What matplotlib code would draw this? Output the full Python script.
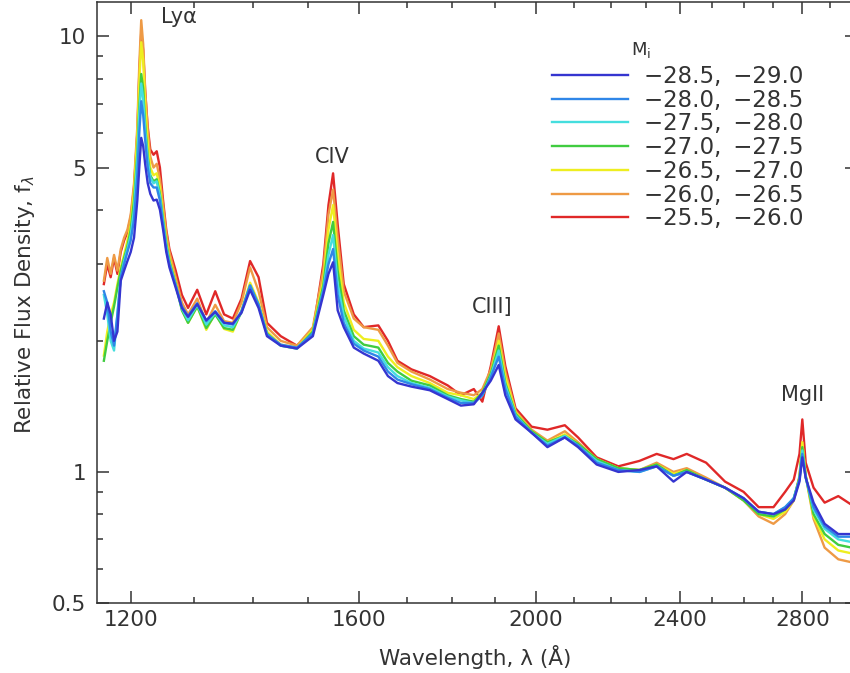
import matplotlib
matplotlib.use("Agg")
import matplotlib.pyplot as plt
from matplotlib.lines import Line2D
from matplotlib.ticker import FixedLocator, NullFormatter

plt.rcParams['font.family'] = ['DejaVu Sans']

# rest-frame wavelength grid (Angstrom)
wave = [1160, 1165, 1170, 1175, 1180, 1185, 1190, 1195, 1200, 1205, 1210, 1213,
        1216, 1219, 1222, 1226, 1230, 1235, 1240, 1245, 1250, 1255, 1260,
        1270, 1280, 1290, 1305, 1320, 1335, 1350, 1365, 1380, 1395, 1410, 1425, 1450, 1480,
        1510, 1530, 1540, 1549, 1558, 1570, 1590, 1610, 1640, 1660, 1680, 1710, 1750, 1790,
        1820, 1850, 1870, 1890, 1909, 1925, 1950, 1990, 2030, 2075, 2110, 2160, 2220, 2280,
        2330, 2380, 2420, 2480, 2540, 2600, 2650, 2700, 2740, 2770, 2790, 2800, 2812, 2840, 2880, 2930, 2980]

# composite spectra, one per absolute magnitude bin
flux_285_290 = [2.25, 2.45, 2.3, 2.0, 2.1, 2.75, 2.9, 3.05, 3.2, 3.45, 4.2, 5.0,
                5.85, 5.6, 5.1, 4.6, 4.35, 4.2, 4.22, 4.0, 3.6, 3.2, 2.95,
                2.65, 2.38, 2.27, 2.43, 2.23, 2.33, 2.2, 2.19, 2.32, 2.62, 2.38, 2.05, 1.95, 1.92,
                2.05, 2.55, 2.85, 3.03, 2.35, 2.15, 1.93, 1.87, 1.8, 1.66, 1.6, 1.57, 1.54, 1.47,
                1.42, 1.43, 1.52, 1.62, 1.76, 1.5, 1.32, 1.23, 1.14, 1.2, 1.14, 1.04, 1.0, 1.01,
                1.03, 0.95, 1.0, 0.96, 0.92, 0.87, 0.81, 0.8, 0.82, 0.86, 0.95, 1.08, 0.97, 0.85, 0.76, 0.72, 0.72]

flux_280_285 = [2.6, 2.45, 2.1, 1.95, 2.3, 2.8, 3.0, 3.2, 3.4, 3.8, 4.8, 6.0,
                7.1, 6.6, 5.8, 5.0, 4.6, 4.5, 4.5, 4.2, 3.7, 3.25, 3.0,
                2.68, 2.4, 2.28, 2.44, 2.22, 2.34, 2.2, 2.18, 2.34, 2.68, 2.42, 2.07, 1.96, 1.93,
                2.08, 2.6, 3.0, 3.25, 2.55, 2.2, 1.97, 1.9, 1.84, 1.7, 1.63, 1.59, 1.55, 1.48,
                1.44, 1.44, 1.5, 1.65, 1.84, 1.55, 1.34, 1.23, 1.15, 1.2, 1.15, 1.05, 1.01, 1.0,
                1.03, 0.98, 1.0, 0.96, 0.92, 0.87, 0.81, 0.8, 0.83, 0.87, 0.96, 1.1, 0.97, 0.83, 0.75, 0.71, 0.71]

flux_275_280 = [2.55, 2.3, 2.0, 1.9, 2.3, 2.8, 3.05, 3.25, 3.5, 4.0, 5.2, 6.6,
                7.8, 7.2, 6.1, 5.2, 4.75, 4.6, 4.65, 4.3, 3.75, 3.3, 3.02,
                2.68, 2.37, 2.23, 2.42, 2.18, 2.32, 2.17, 2.15, 2.33, 2.68, 2.42, 2.07, 1.95, 1.92,
                2.08, 2.62, 3.15, 3.5, 2.7, 2.28, 2.0, 1.92, 1.88, 1.74, 1.66, 1.6, 1.56, 1.49,
                1.46, 1.44, 1.5, 1.66, 1.9, 1.58, 1.35, 1.23, 1.16, 1.21, 1.15, 1.06, 1.01, 1.0,
                1.03, 0.98, 1.0, 0.96, 0.92, 0.87, 0.81, 0.8, 0.83, 0.87, 0.96, 1.12, 0.97, 0.82, 0.74, 0.7, 0.69]

flux_270_275 = [1.8, 2.0, 2.2, 2.4, 2.65, 2.9, 3.1, 3.3, 3.6, 4.2, 5.4, 6.9,
                8.2, 7.6, 6.3, 5.3, 4.8, 4.65, 4.7, 4.35, 3.8, 3.35, 3.05,
                2.7, 2.35, 2.2, 2.4, 2.14, 2.3, 2.14, 2.12, 2.33, 2.68, 2.42, 2.08, 1.95, 1.92,
                2.1, 2.68, 3.35, 3.75, 2.9, 2.35, 2.05, 1.96, 1.93, 1.78, 1.7, 1.62, 1.58, 1.5,
                1.47, 1.45, 1.52, 1.68, 1.95, 1.6, 1.36, 1.24, 1.17, 1.21, 1.16, 1.07, 1.02, 1.01,
                1.04, 0.98, 1.01, 0.96, 0.92, 0.86, 0.8, 0.79, 0.82, 0.87, 0.97, 1.14, 0.98, 0.8, 0.72, 0.68, 0.67]

flux_265_270 = [1.85, 2.1, 2.3, 2.45, 2.7, 2.95, 3.15, 3.4, 3.7, 4.4, 5.9, 7.8,
                9.7, 8.8, 7.0, 5.7, 5.0, 4.8, 4.85, 4.5, 3.9, 3.4, 3.1,
                2.72, 2.36, 2.2, 2.4, 2.12, 2.32, 2.13, 2.1, 2.35, 2.72, 2.45, 2.1, 1.96, 1.93,
                2.12, 2.75, 3.6, 4.1, 3.15, 2.45, 2.12, 2.02, 2.0, 1.84, 1.74, 1.66, 1.6, 1.52,
                1.5, 1.47, 1.52, 1.68, 2.0, 1.65, 1.37, 1.24, 1.17, 1.22, 1.16, 1.07, 1.02, 1.01,
                1.04, 0.99, 1.01, 0.96, 0.92, 0.86, 0.8, 0.78, 0.81, 0.86, 0.97, 1.17, 0.98, 0.79, 0.7, 0.66, 0.65]

flux_260_265 = [2.75, 3.1, 2.85, 3.15, 2.9, 3.25, 3.45, 3.6, 3.9, 4.6, 6.2, 8.6,
                10.9, 9.6, 7.6, 6.1, 5.3, 5.0, 5.1, 4.7, 4.1, 3.55, 3.2,
                2.8, 2.45, 2.3, 2.5, 2.2, 2.42, 2.22, 2.2, 2.45, 2.95, 2.6, 2.15, 2.0, 1.95,
                2.15, 2.9, 3.9, 4.45, 3.45, 2.6, 2.25, 2.15, 2.12, 1.95, 1.78, 1.7, 1.63, 1.55,
                1.52, 1.5, 1.55, 1.72, 2.08, 1.7, 1.38, 1.25, 1.18, 1.24, 1.17, 1.07, 1.02, 1.01,
                1.05, 1.0, 1.02, 0.97, 0.92, 0.86, 0.79, 0.76, 0.8, 0.86, 0.98, 1.17, 0.98, 0.78, 0.67, 0.63, 0.62]

flux_255_260 = [2.7, 3.0, 2.8, 3.1, 2.85, 3.2, 3.4, 3.55, 3.85, 4.5, 6.0, 8.2,
                10.2, 9.3, 7.5, 6.2, 5.5, 5.35, 5.45, 5.0, 4.2, 3.6, 3.25,
                2.9, 2.55, 2.38, 2.62, 2.3, 2.6, 2.3, 2.25, 2.5, 3.05, 2.8, 2.2, 2.05, 1.95,
                2.1, 3.0, 4.1, 4.85, 3.7, 2.7, 2.3, 2.15, 2.17, 2.0, 1.8, 1.72, 1.66, 1.58,
                1.5, 1.55, 1.45, 1.75, 2.16, 1.75, 1.4, 1.27, 1.25, 1.28, 1.2, 1.08, 1.03, 1.06,
                1.1, 1.07, 1.1, 1.05, 0.95, 0.9, 0.83, 0.83, 0.9, 0.96, 1.1, 1.32, 1.05, 0.92, 0.85, 0.88, 0.84]

labels = ["\u221228.5, \u2009\u221229.0", "\u221228.0, \u2009\u221228.5", "\u221227.5, \u2009\u221228.0",
          "\u221227.0, \u2009\u221227.5", "\u221226.5, \u2009\u221227.0", "\u221226.0, \u2009\u221226.5",
          "\u221225.5, \u2009\u221226.0"]
colors = ["#3535d0", "#2f86e8", "#45dede", "#40cc40", "#eeee20", "#ee9a45", "#e02828"]
spectra = [flux_285_290, flux_280_285, flux_275_280, flux_270_275,
           flux_265_270, flux_260_265, flux_255_260]

line_names = ["Ly\u03b1", "CIV", "CIII]", "MgII"]
line_x = [1275, 1547, 1893, 2800]
line_y = [11.1, 5.3, 2.39, 1.50]

ink = "#333333"

fig = plt.figure(figsize=(8.5, 6.73), dpi=100)
ax = fig.add_axes([97 / 850, 70 / 673, 760 / 850, 601 / 673])

# faintest bin underneath, brightest on top
for flux, col in reversed(list(zip(spectra, colors))):
    ax.plot(wave, flux, color=col, lw=1.7)

ax.set_xscale("log")
ax.set_yscale("log")
ax.set_xlim(1150, 3000)
ax.set_ylim(0.5, 12)

ax.xaxis.set_major_locator(FixedLocator([1200, 1600, 2000, 2400, 2800]))
ax.xaxis.set_minor_locator(FixedLocator(list(range(1200, 3000, 100))))
ax.set_xticklabels(["1200", "1600", "2000", "2400", "2800"])
ax.xaxis.set_minor_formatter(NullFormatter())

ax.yaxis.set_major_locator(FixedLocator([0.5, 1, 5, 10]))
ax.yaxis.set_minor_locator(FixedLocator([0.6, 0.7, 0.8, 0.9, 2, 3, 4, 6, 7, 8, 9]))
ax.set_yticklabels(["0.5", "1", "5", "10"])
ax.yaxis.set_minor_formatter(NullFormatter())

ax.tick_params(which="both", direction="in", top=True, right=True,
               color=ink, width=1.1, labelsize=15.5, labelcolor=ink)
ax.tick_params(which="major", length=8.6)
ax.tick_params(which="minor", length=4.3)
ax.tick_params(axis="x", which="major", pad=5)
ax.tick_params(axis="y", which="major", pad=8)
for s in ax.spines.values():
    s.set_color(ink)
    s.set_linewidth(1.1)

ax.set_xlabel("Wavelength, \u03bb (\u00c5)", fontsize=15.5, color=ink)
ax.set_ylabel("Relative Flux Density, f$_{\\lambda}$", fontsize=15.5, color=ink)
ax.xaxis.set_label_coords(0.497, -0.07)
ax.yaxis.set_label_coords(-0.079, 0.496)

for name, lx, ly in zip(line_names, line_x, line_y):
    ax.text(lx, ly, name, ha="center", va="center", fontsize=15, color=ink)

handles = [Line2D([], [], color=c, lw=1.7) for c in colors]
leg = ax.legend(handles, labels, loc="upper left", bbox_to_anchor=(0.5987, 0.895),
                frameon=False, fontsize=16.5, labelspacing=0.03, handlelength=3.3,
                handletextpad=0.7, borderpad=0, borderaxespad=0)
for t in leg.get_texts():
    t.set_color(ink)
ax.text(0.7158, 0.92, "M$_{\\rm i}$", transform=ax.transAxes, ha="center", va="center",
        fontsize=13, color=ink)

fig.savefig("out.png", dpi=100)
